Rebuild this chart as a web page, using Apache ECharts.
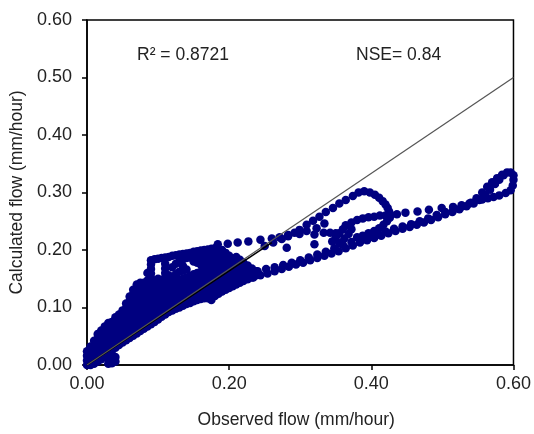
<!DOCTYPE html>
<html>
<head>
<meta charset="utf-8">
<script src="https://cdn.jsdelivr.net/npm/echarts@6/dist/echarts.min.js"></script>
<style>
html,body{margin:0;padding:0;background:#fff;}
#chart{width:534px;height:434px;}
</style>
</head>
<body>
<div id="chart"></div>
<script>
// ---- axis ticks / labels ----
const xTickValues = [0.00, 0.20, 0.40, 0.60];
const yTickValues = [0.00, 0.10, 0.20, 0.30, 0.40, 0.50, 0.60];
const xTitle = 'Observed flow (mm/hour)';
const yTitle = 'Calculated flow (mm/hour)';
const r2Text = 'R² = 0.8721';
const nseText = 'NSE= 0.84';

// ---- reference lines ----
const referenceLine = [[0.0, 0.0], [0.6, 0.5]];
const trendSegment = [[0.0, 0.0], [0.26, 0.213]];

// ---- dense core of the scatter, read column by column (observed, [calculated...]) ----
const blobColumns = [
  [0.000, [0.000, 0.008, 0.016, 0.024]],
  [0.005, [0.000, 0.008, 0.016, 0.024, 0.032]],
  [0.010, [0.002, 0.010, 0.018, 0.026, 0.034, 0.042]],
  [0.015, [0.006, 0.014, 0.022, 0.030, 0.038, 0.046, 0.054]],
  [0.020, [0.010, 0.018, 0.026, 0.034, 0.042, 0.050, 0.060]],
  [0.025, [0.014, 0.022, 0.030, 0.038, 0.046, 0.054, 0.062, 0.067]],
  [0.030, [0.002, 0.010, 0.018, 0.026, 0.034, 0.042, 0.050, 0.058, 0.066, 0.073]],
  [0.035, [0.003, 0.011, 0.019, 0.027, 0.035, 0.043, 0.051, 0.059, 0.067, 0.075]],
  [0.040, [0.006, 0.014, 0.030, 0.038, 0.046, 0.054, 0.062, 0.070, 0.078, 0.083]],
  [0.045, [0.035, 0.043, 0.051, 0.059, 0.067, 0.075, 0.083, 0.088]],
  [0.050, [0.039, 0.047, 0.055, 0.063, 0.071, 0.079, 0.087, 0.095]],
  [0.055, [0.043, 0.051, 0.059, 0.067, 0.075, 0.083, 0.091, 0.099, 0.107]],
  [0.060, [0.047, 0.055, 0.063, 0.071, 0.079, 0.087, 0.095, 0.103, 0.111, 0.119]],
  [0.065, [0.051, 0.059, 0.067, 0.075, 0.083, 0.091, 0.099, 0.107, 0.115, 0.123, 0.131]],
  [0.070, [0.055, 0.063, 0.071, 0.079, 0.087, 0.095, 0.103, 0.111, 0.119, 0.127, 0.135, 0.140]],
  [0.075, [0.059, 0.067, 0.075, 0.083, 0.091, 0.099, 0.107, 0.115, 0.123, 0.131, 0.139, 0.143]],
  [0.080, [0.063, 0.071, 0.079, 0.087, 0.095, 0.103, 0.111, 0.119, 0.127, 0.135, 0.143]],
  [0.085, [0.067, 0.075, 0.083, 0.091, 0.099, 0.107, 0.115, 0.123, 0.131, 0.139, 0.147, 0.160]],
  [0.090, [0.071, 0.079, 0.087, 0.095, 0.103, 0.111, 0.119, 0.127, 0.135, 0.143, 0.151, 0.159, 0.167, 0.175, 0.182]],
  [0.095, [0.075, 0.083, 0.091, 0.099, 0.107, 0.115, 0.123, 0.131, 0.139, 0.147, 0.184]],
  [0.100, [0.079, 0.087, 0.095, 0.103, 0.111, 0.119, 0.127, 0.135, 0.143, 0.150, 0.185]],
  [0.105, [0.084, 0.092, 0.100, 0.108, 0.116, 0.124, 0.132, 0.140, 0.148, 0.186]],
  [0.110, [0.088, 0.096, 0.104, 0.112, 0.120, 0.128, 0.136, 0.144, 0.152, 0.160, 0.168, 0.176, 0.187]],
  [0.115, [0.092, 0.100, 0.108, 0.116, 0.124, 0.132, 0.140, 0.148, 0.156, 0.188]],
  [0.120, [0.095, 0.103, 0.111, 0.119, 0.127, 0.135, 0.143, 0.150, 0.170, 0.190]],
  [0.125, [0.098, 0.106, 0.114, 0.122, 0.130, 0.138, 0.146, 0.158, 0.176, 0.191]],
  [0.130, [0.100, 0.108, 0.116, 0.124, 0.132, 0.140, 0.148, 0.162, 0.180, 0.192]],
  [0.135, [0.103, 0.111, 0.119, 0.127, 0.135, 0.143, 0.150, 0.164, 0.172, 0.184, 0.193]],
  [0.140, [0.106, 0.114, 0.122, 0.130, 0.138, 0.146, 0.152, 0.166, 0.186, 0.194]],
  [0.145, [0.108, 0.116, 0.124, 0.132, 0.140, 0.148, 0.155, 0.187, 0.195]],
  [0.150, [0.111, 0.119, 0.127, 0.135, 0.143, 0.151, 0.158, 0.180, 0.189, 0.197]],
  [0.155, [0.113, 0.121, 0.129, 0.137, 0.145, 0.153, 0.160, 0.178, 0.190, 0.198]],
  [0.160, [0.115, 0.123, 0.131, 0.139, 0.147, 0.155, 0.162, 0.175, 0.186, 0.192, 0.199]],
  [0.165, [0.116, 0.124, 0.132, 0.140, 0.148, 0.156, 0.164, 0.172, 0.180, 0.188, 0.200]],
  [0.170, [0.116, 0.124, 0.132, 0.140, 0.148, 0.156, 0.165, 0.174, 0.182, 0.190, 0.201]],
  [0.175, [0.113, 0.121, 0.129, 0.137, 0.145, 0.153, 0.161, 0.169, 0.177, 0.185, 0.193, 0.202]],
  [0.180, [0.120, 0.128, 0.136, 0.144, 0.152, 0.160, 0.168, 0.176, 0.184, 0.192, 0.203]],
  [0.185, [0.124, 0.132, 0.140, 0.148, 0.156, 0.164, 0.172, 0.180, 0.188, 0.196]],
  [0.190, [0.128, 0.136, 0.144, 0.152, 0.160, 0.168, 0.176, 0.184, 0.192, 0.200]],
  [0.195, [0.131, 0.139, 0.147, 0.155, 0.163, 0.171, 0.179, 0.187, 0.195]],
  [0.200, [0.134, 0.142, 0.150, 0.158, 0.166, 0.174, 0.182, 0.190]],
  [0.205, [0.137, 0.145, 0.153, 0.161, 0.169, 0.177, 0.185]],
  [0.210, [0.140, 0.148, 0.156, 0.164, 0.172, 0.180, 0.188]],
  [0.215, [0.143, 0.151, 0.159, 0.167, 0.175, 0.183]],
  [0.220, [0.146, 0.154, 0.162, 0.170, 0.178]],
  [0.226, [0.149, 0.157, 0.165, 0.173]],
  [0.232, [0.152, 0.160, 0.168]],
  [0.238, [0.156, 0.163]]
];

// ---- lower arm (falling-limb band to the 0.6 peak) ----
const lowerArm = [
  [0.234,0.152],[0.244,0.156],[0.254,0.159],[0.264,0.163],[0.274,0.167],[0.284,0.171],[0.294,0.175],
  [0.304,0.178],[0.314,0.182],[0.324,0.186],[0.334,0.190],[0.344,0.194],[0.354,0.198],[0.364,0.203],
  [0.374,0.208],[0.384,0.213],[0.394,0.217],[0.404,0.221],[0.414,0.225],[0.424,0.229],[0.434,0.233],
  [0.444,0.237],[0.454,0.240],[0.464,0.244],[0.474,0.248],[0.484,0.252],[0.494,0.257],[0.504,0.262],
  [0.514,0.266],[0.524,0.271],[0.534,0.276],[0.544,0.281],[0.552,0.287],[0.560,0.296],[0.567,0.305],
  [0.574,0.315],[0.580,0.322],[0.586,0.330],[0.591,0.335],[0.596,0.335],[0.600,0.330],[0.600,0.322],
  [0.599,0.312],[0.596,0.304],[0.589,0.299],[0.580,0.295],[0.572,0.292],[0.564,0.290],[0.556,0.288]
];
const lowerArmUpperRow = [
  [0.240,0.163],[0.252,0.167],[0.264,0.170],[0.276,0.174],[0.288,0.178],[0.300,0.182],[0.312,0.187],
  [0.324,0.192],[0.336,0.197],[0.348,0.203],[0.360,0.209],[0.372,0.214],[0.384,0.219],[0.396,0.223],
  [0.408,0.227],[0.420,0.232],[0.432,0.237],[0.444,0.241],[0.456,0.245],[0.468,0.250],[0.480,0.255],
  [0.492,0.261],[0.504,0.266],[0.516,0.271],[0.528,0.276],[0.540,0.282],[0.548,0.290],[0.556,0.300],
  [0.563,0.310],[0.570,0.318],[0.577,0.325],[0.584,0.331]
];

// ---- upper dotted row, diagonal arm and upper loop ----
const upperRow = [
  [0.184,0.210],[0.198,0.211],[0.212,0.213],[0.227,0.215],[0.244,0.218],[0.260,0.220],[0.271,0.222],
  [0.283,0.226],[0.299,0.228],[0.309,0.233],[0.323,0.238],[0.334,0.246]
];
const scatteredDots = [
  [0.281,0.204],[0.320,0.227],[0.320,0.210],[0.333,0.230],[0.342,0.230],[0.350,0.229]
];
const diagonalArm = [
  [0.250,0.207],[0.262,0.213],[0.274,0.219],[0.283,0.224],[0.292,0.230],[0.299,0.235],[0.309,0.244],
  [0.318,0.251],[0.327,0.258],[0.336,0.266],[0.346,0.273],[0.355,0.281],[0.364,0.287],[0.374,0.294],
  [0.382,0.300],[0.390,0.302],[0.398,0.300],[0.405,0.296],[0.411,0.291],[0.416,0.285],[0.420,0.279],
  [0.423,0.273],[0.425,0.267],[0.427,0.261]
];
const dottedTail = [
  [0.436,0.262],[0.448,0.265],[0.465,0.267],[0.481,0.270],[0.499,0.273],[0.515,0.275],[0.527,0.278],[0.538,0.281]
];
const middleLoop = [
  [0.345,0.215],[0.350,0.222],[0.355,0.229],[0.360,0.236],[0.355,0.212],[0.362,0.220],[0.368,0.228],
  [0.372,0.236],[0.364,0.243],[0.372,0.248],[0.380,0.252],[0.388,0.255],[0.396,0.257],[0.404,0.258],
  [0.412,0.260],[0.420,0.260],[0.426,0.256],[0.422,0.250],[0.417,0.244],[0.411,0.238],[0.404,0.233],
  [0.396,0.229],[0.388,0.225],[0.380,0.222]
];

// ---- build the scatter table ----
const points = [];
blobColumns.forEach(function (col) {
  col[1].forEach(function (y) { points.push([col[0], y]); });
});
[lowerArm, lowerArmUpperRow, upperRow, scatteredDots, diagonalArm, dottedTail, middleLoop].forEach(function (arr) {
  arr.forEach(function (p) { points.push(p); });
});

const FONT = 'Liberation Sans, Arial, sans-serif';
const chart = echarts.init(document.getElementById('chart'), null, {renderer: 'canvas'});
chart.setOption({
  animation: false,
  backgroundColor: '#ffffff',
  grid: {left: 87, right: 18, top: 20, bottom: 65, show: true, borderColor: '#000', borderWidth: 1.5, containLabel: false},
  xAxis: {
    type: 'value', min: 0, max: 0.6, interval: 0.2,
    name: xTitle, nameLocation: 'middle', nameGap: 46,
    nameTextStyle: {fontFamily: FONT, fontSize: 17.5, color: '#222', padding: [0, 8, 0, 0]},
    axisLine: {show: true, onZero: false, lineStyle: {color: '#000', width: 1.5}},
    axisTick: {show: true, length: 5, lineStyle: {color: '#000', width: 1.5}},
    axisLabel: {fontFamily: FONT, fontSize: 18, color: '#222', margin: 10,
      formatter: function (v) { return v.toFixed(2); }},
    splitLine: {show: false}
  },
  yAxis: {
    type: 'value', min: 0, max: 0.6, interval: 0.1,
    name: yTitle, nameLocation: 'middle', nameGap: 57,
    nameTextStyle: {fontFamily: FONT, fontSize: 17.5, color: '#222'},
    axisLine: {show: true, onZero: false, lineStyle: {color: '#000', width: 1.5}},
    axisTick: {show: true, length: 5, lineStyle: {color: '#000', width: 1.5}},
    axisLabel: {fontFamily: FONT, fontSize: 18, color: '#222', margin: 15,
      formatter: function (v) { return v.toFixed(2); }},
    splitLine: {show: false}
  },
  series: [
    {
      type: 'scatter', data: points, symbol: 'circle', symbolSize: 8.5,
      itemStyle: {color: '#000080', opacity: 1}, z: 2, silent: true
    },
    {
      type: 'line', data: trendSegment, symbol: 'none', z: 3, silent: true,
      lineStyle: {color: '#000', width: 1.5}
    },
    {
      type: 'line', data: referenceLine, symbol: 'none', z: 4, silent: true,
      lineStyle: {color: '#555', width: 1.2}
    }
  ],
  graphic: [
    {type: 'text', left: 137, top: 46, silent: true,
     style: {text: r2Text, font: '17.5px ' + FONT, fill: '#222'}},
    {type: 'text', left: 356, top: 46, silent: true,
     style: {text: nseText, font: '17.5px ' + FONT, fill: '#222'}}
  ]
});
</script>
</body>
</html>
